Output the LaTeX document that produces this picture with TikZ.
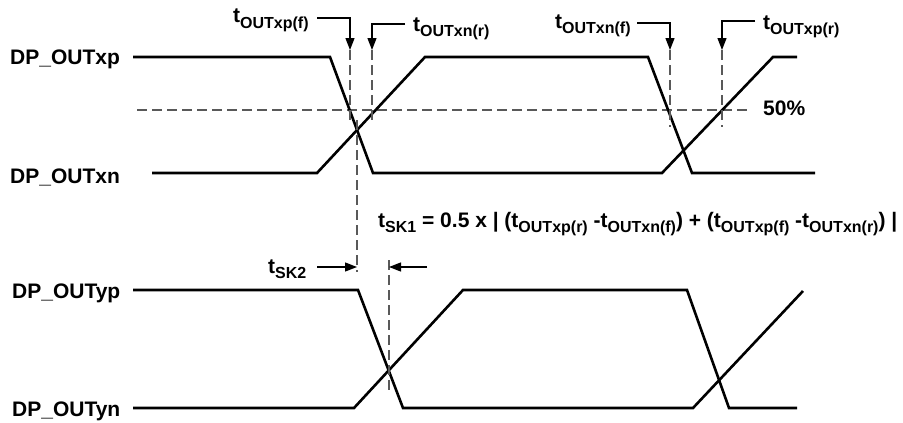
\documentclass[tikz,border=0pt]{standalone}
\usepackage{fontspec}
\setmainfont{Liberation Sans}
\usetikzlibrary{arrows.meta}
\newcommand\tsb[1]{t\raisebox{-5.5pt}{\fontsize{16}{16}\selectfont #1}}
\begin{document}
\begin{tikzpicture}[x=1pt,y=-1pt,
  sig/.style={line width=2.6pt, line join=miter},
  dsh/.style={line width=1.3pt, draw=black!65, dash pattern=on 10pt off 5pt},
  ldr/.style={line width=1.3pt, -{Triangle[length=12pt,width=9pt]}},
  lab/.style={font=\fontsize{21}{25}\selectfont\bfseries, inner sep=0pt, anchor=base west}]
\useasboundingbox (0,0) rectangle (903,423);
% signal labels
\node[lab] (Lxp) at (10,64) {DP\_OUTxp};
\node[lab] (Lxn) at (10,183) {DP\_OUTxn};
\node[lab] (Lyp) at (12,298) {DP\_OUTyp};
\node[lab] (Lyn) at (12,416) {DP\_OUTyn};
\node[lab] (L50) at (763,115) {50\%};
% timing labels
\node[lab] (Txpf) at (233,23) {\tsb{OUTxp(f)}};
\node[lab] (Txnr) at (413,31) {\tsb{OUTxn(r)}};
\node[lab] (Txnf) at (555,28) {\tsb{OUTxn(f)}};
\node[lab] (Txpr) at (763,29) {\tsb{OUTxp(r)}};
\node[lab] (Tsk2) at (268,273) {\tsb{SK2}};
\node[lab] (Tsk1) at (378,227) {\tsb{SK1} = 0.5 x | (\tsb{OUTxp(r)} -\tsb{OUTxn(f)}) + (\tsb{OUTxp(f)} -\tsb{OUTxn(r)}) |};
% 50% reference line
\coordinate (h1) at (137,110);
\coordinate (h2) at (748,110);
\draw[dsh] (h1) -- (h2);
% upper signals
\draw[sig] (133,57) -- (330,57) -- (373,173) -- (662,173) -- (773,57) -- (797,57);
\draw[sig] (152,173) -- (317,173) -- (425,57) -- (648,57) -- (692,173) -- (815,173);
% lower signals
\draw[sig] (133,290) -- (358,290) -- (403,408) -- (693,408) -- (803,291);
\draw[sig] (133,408) -- (354,408) -- (463,290) -- (687,290) -- (729,408) -- (797,408);
% leader arrows
\coordinate (s1) at (317,18);  \coordinate (a1) at (350,50);
\coordinate (s2) at (405,24);  \coordinate (a2) at (372,50);
\coordinate (s3) at (637,23);  \coordinate (a3) at (670,50);
\coordinate (s4) at (755,21);  \coordinate (a4) at (722,50);
\draw[ldr] (s1) -| (a1);
\draw[ldr] (s2) -| (a2);
\draw[ldr] (s3) -| (a3);
\draw[ldr] (s4) -| (a4);
% dashed markers
\coordinate (b1) at (350,120);
\coordinate (b2) at (372,120);
\coordinate (b3) at (670,127);
\coordinate (b4) at (722,127);
\draw[dsh] (a1) -- (b1);
\draw[dsh] (a2) -- (b2);
\draw[dsh] (a3) -- (b3);
\draw[dsh] (a4) -- (b4);
\coordinate (c1) at (357,120);
\coordinate (c2) at (357,272);
\draw[dsh] (c1) -- (c2);
\coordinate (d1) at (389,260);
\coordinate (d2) at (389,390);
\draw[dsh] (d1) -- (d2);
% skew arrows
\coordinate (k1) at (317,267); \coordinate (k2) at (357,267);
\coordinate (k3) at (427,267); \coordinate (k4) at (389,267);
\draw[ldr] (k1) -- (k2);
\draw[ldr] (k3) -- (k4);
\end{tikzpicture}
\end{document}
